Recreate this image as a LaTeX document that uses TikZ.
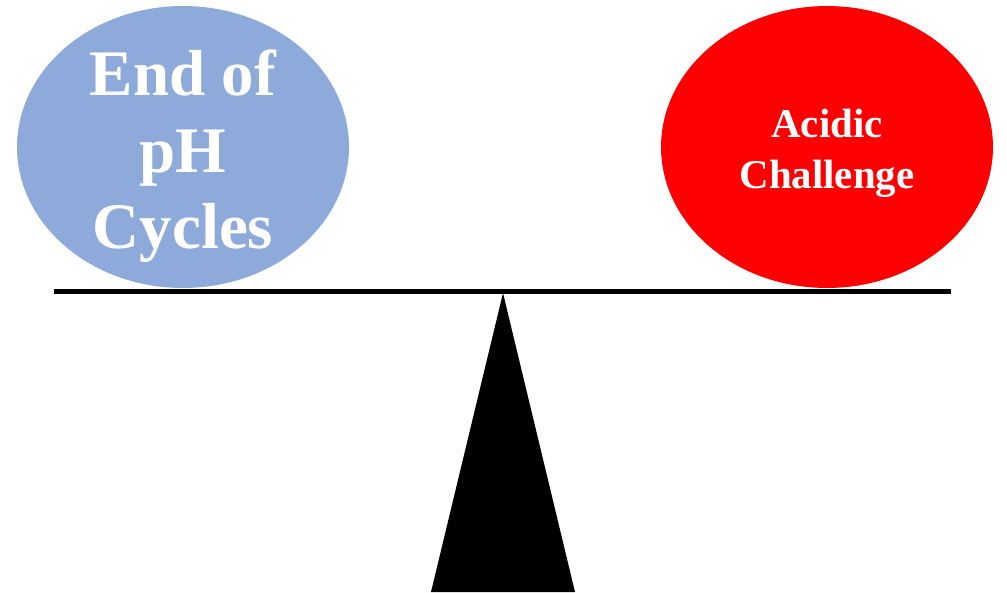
\documentclass[tikz,border=0pt]{standalone}
\usepackage{fontspec}
\setmainfont{Liberation Serif}
\usetikzlibrary{shapes.geometric}
\definecolor{cycleblue}{HTML}{8EAADB}
\definecolor{acidred}{HTML}{FF0000}
\begin{document}
\begin{tikzpicture}[x=0.02cm, y=-0.02cm,
  pan/.style={ellipse, inner sep=0pt, minimum width=6.64cm, minimum height=5.64cm},
  pantext/.style={text=white, font=\bfseries, align=center, inner sep=0pt}]
  \useasboundingbox (0,0) rectangle (1007,592);
  % 两个秤盘
  \node[pan, fill=cycleblue] (leftpan) at (183,147) {};
  \node[pan, fill=acidred] (rightpan) at (827,147) {};
  % 秤杆两端与支点
  \coordinate (L) at (54,291.5);
  \coordinate (R) at (951,291.5);
  \coordinate (T) at (503,293);
  \coordinate (B1) at (431,592);
  \coordinate (B2) at (575,592);

  \draw[line width=3.4pt] (L) -- (R);
  \fill (T) -- (B1) -- (B2) -- cycle;

  \node[pantext, font=\bfseries\fontsize{37}{43.8}\selectfont, anchor=center]
    (lefttext) at ([yshift=-5.2pt]leftpan.center) {End of\\pH\\Cycles};
  \node[pantext, font=\bfseries\fontsize{23.3}{29}\selectfont, anchor=center]
    (righttext) at ([yshift=-3.4pt]rightpan.center) {Acidic\\Challenge};
\end{tikzpicture}
\end{document}
